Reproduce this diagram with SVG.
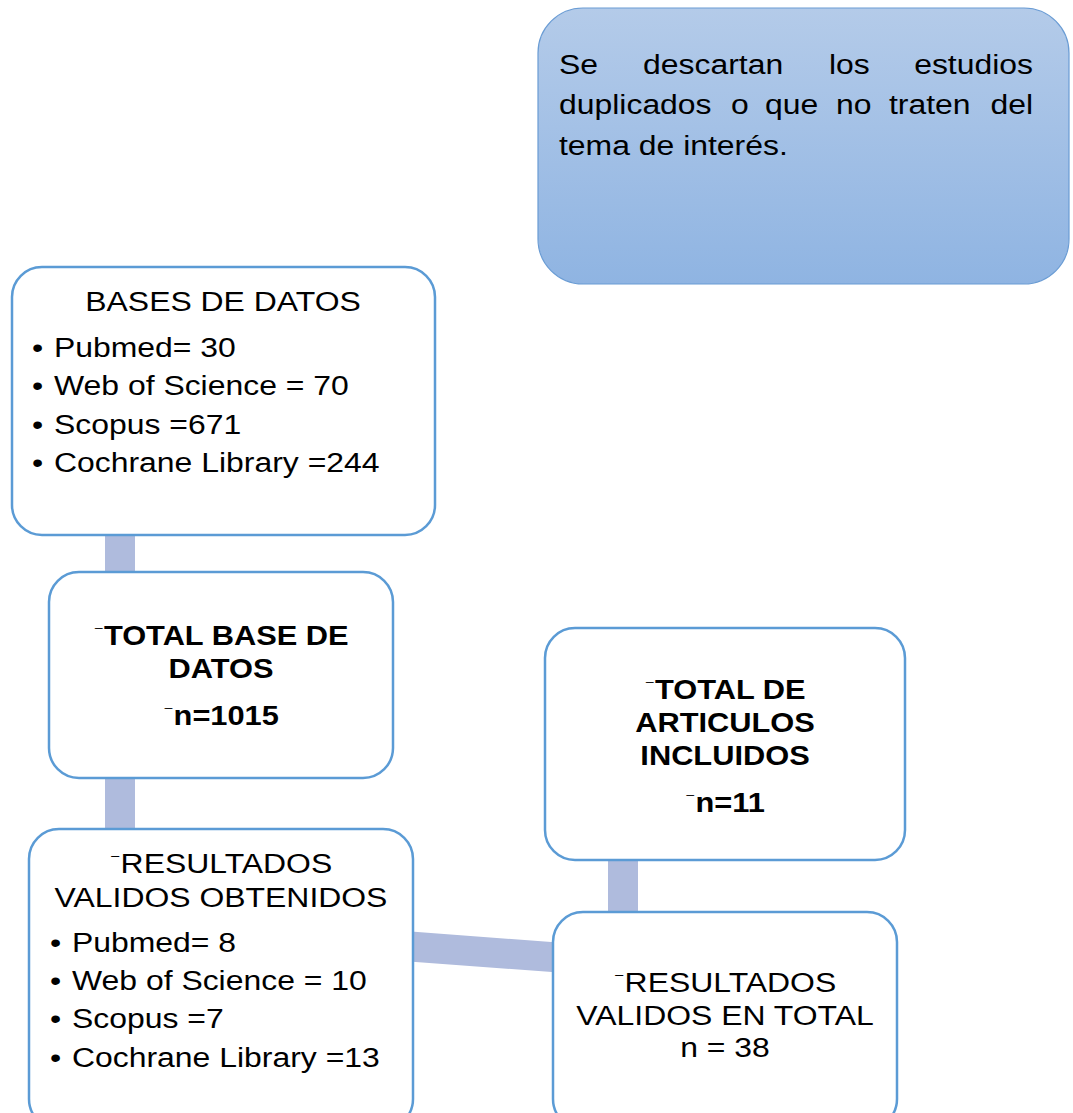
<svg xmlns="http://www.w3.org/2000/svg" width="1073" height="1113" viewBox="0 0 1073 1113">
<defs>
<linearGradient id="g1" x1="0" y1="0" x2="0" y2="1">
<stop offset="0" stop-color="#B4CBE9"/>
<stop offset="1" stop-color="#8FB4E2"/>
</linearGradient>
<style>
.box{fill:#FFFFFF;stroke:#5B9BD5;stroke-width:2.5}
.conn{stroke:#AFBBDD;stroke-width:30;fill:none}
text{font-family:"Liberation Sans","DejaVu Sans",Arial,sans-serif;font-size:28px;fill:#000}
.c{text-anchor:middle}
.e{text-anchor:end}
.b{font-weight:bold}
.m{font-size:18px;font-weight:normal;baseline-shift:7px}
</style>
</defs>
<rect width="1073" height="1113" fill="#FFFFFF"/>
<g id="connectors">
<line class="conn" x1="120" y1="520" x2="120" y2="590"/>
<line class="conn" x1="120" y1="760" x2="120" y2="845"/>
<line class="conn" x1="623" y1="845" x2="623" y2="925"/>
<line class="conn" x1="400" y1="945.7" x2="570" y2="958.4"/>
</g>
<g id="node-descartan">
<rect x="538" y="8" width="531" height="276" rx="45" ry="45" fill="url(#g1)" stroke="#6A9CD4" stroke-width="1.2"/>
<text transform="translate(559,74) scale(1.14,1)">Se</text>
<text transform="translate(643,74) scale(1.14,1)">descartan</text>
<text transform="translate(829,74) scale(1.14,1)">los</text>
<text class="e" transform="translate(1033,74) scale(1.14,1)">estudios</text>
<text transform="translate(559,114) scale(1.14,1)">duplicados</text>
<text transform="translate(731,114) scale(1.14,1)">o</text>
<text transform="translate(765,114) scale(1.14,1)">que</text>
<text transform="translate(836,114) scale(1.14,1)">no</text>
<text transform="translate(889,114) scale(1.14,1)">traten</text>
<text class="e" transform="translate(1033,114) scale(1.14,1)">del</text>
<text transform="translate(559,155) scale(1.14,1)">tema de interés.</text>
</g>
<g id="node-bases">
<rect class="box" x="12" y="267" width="423" height="268" rx="30" ry="30"/>
<text class="c" transform="translate(223,311) scale(1.14,1)">BASES DE DATOS</text>
<text transform="translate(32,357) scale(1.14,1)">•</text>
<text transform="translate(54,357) scale(1.14,1)">Pubmed= 30</text>
<text transform="translate(32,395) scale(1.14,1)">•</text>
<text transform="translate(54,395) scale(1.14,1)">Web of Science = 70</text>
<text transform="translate(32,434) scale(1.14,1)">•</text>
<text transform="translate(54,434) scale(1.14,1)">Scopus =671</text>
<text transform="translate(32,472) scale(1.14,1)">•</text>
<text transform="translate(54,472) scale(1.14,1)">Cochrane Library =244</text>
</g>
<g id="node-total-base">
<rect class="box" x="49" y="572" width="344" height="206" rx="30" ry="30"/>
<text class="c b" transform="translate(221,645) scale(1.1,1)"><tspan class="m">⁻</tspan>TOTAL BASE DE</text>
<text class="c b" transform="translate(221,678) scale(1.1,1)">DATOS</text>
<text class="c b" transform="translate(221,725) scale(1.1,1)"><tspan class="m">⁻</tspan>n=1015</text>
</g>
<g id="node-incluidos">
<rect class="box" x="545" y="628" width="360" height="232" rx="30" ry="30"/>
<text class="c b" transform="translate(725,699) scale(1.1,1)"><tspan class="m">⁻</tspan>TOTAL DE</text>
<text class="c b" transform="translate(725,732) scale(1.1,1)">ARTICULOS</text>
<text class="c b" transform="translate(725,765) scale(1.1,1)">INCLUIDOS</text>
<text class="c b" transform="translate(725,812) scale(1.1,1)"><tspan class="m">⁻</tspan>n=11</text>
</g>
<g id="node-validos-obtenidos">
<rect class="box" x="29" y="829" width="384" height="300" rx="30" ry="30"/>
<text class="c" transform="translate(221,873) scale(1.14,1)"><tspan class="m">⁻</tspan>RESULTADOS</text>
<text class="c" transform="translate(221,907) scale(1.14,1)">VALIDOS OBTENIDOS</text>
<text transform="translate(50,952) scale(1.14,1)">•</text>
<text transform="translate(72,952) scale(1.14,1)">Pubmed= 8</text>
<text transform="translate(50,990) scale(1.14,1)">•</text>
<text transform="translate(72,990) scale(1.14,1)">Web of Science = 10</text>
<text transform="translate(50,1028) scale(1.14,1)">•</text>
<text transform="translate(72,1028) scale(1.14,1)">Scopus =7</text>
<text transform="translate(50,1067) scale(1.14,1)">•</text>
<text transform="translate(72,1067) scale(1.14,1)">Cochrane Library =13</text>
</g>
<g id="node-validos-total">
<rect class="box" x="553" y="912" width="344" height="217" rx="30" ry="30"/>
<text class="c" transform="translate(725,992) scale(1.14,1)"><tspan class="m">⁻</tspan>RESULTADOS</text>
<text class="c" transform="translate(725,1025) scale(1.14,1)">VALIDOS EN TOTAL</text>
<text class="c" transform="translate(725,1057) scale(1.14,1)">n = 38</text>
</g>
</svg>
